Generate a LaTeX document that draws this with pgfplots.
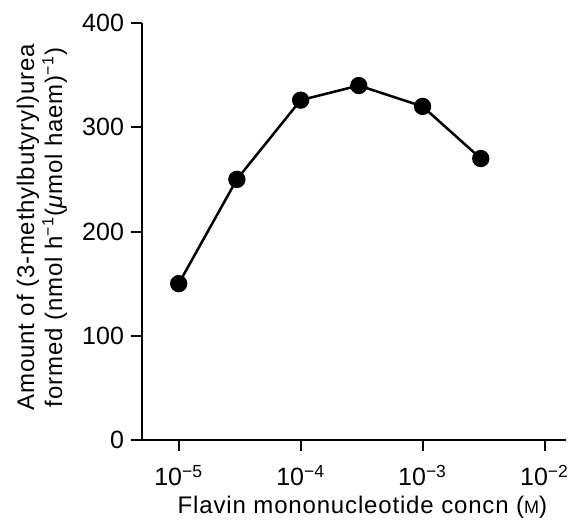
\documentclass[border=0pt]{standalone}
\usepackage{fontspec}
\setmainfont{Liberation Sans}
\newfontfamily\labelfont[LetterSpace=3.5]{Liberation Sans}
\usepackage{pgfplots}
\pgfplotsset{compat=1.18}

\begin{document}
\begin{tikzpicture}
\useasboundingbox (-71pt,-40pt) rectangle (215.5pt,220pt);
\begin{axis}[
    at={(0,0)}, anchor=south west, scale only axis,
    width=212pt, height=208.5pt,
    xmode=log, xmin=5.0e-6, xmax=1.5e-2,
    ymin=0, ymax=400,
    axis x line*=bottom, axis y line*=left,
    axis line style={line width=1pt, -},
    every tick/.style={black, line width=1pt},
    tick align=outside, major tick length=5.5pt,
    xminorticks=false,
    xtick={1e-5,1e-4,1e-3,1e-2},
    xticklabels={10\textsuperscript{−5},10\textsuperscript{−4},10\textsuperscript{−3},10\textsuperscript{−2}},
    ytick={0,100,200,300,400},
    yticklabels={0,100,200,300,400},
    tick label style={font=\fontsize{12.5}{14}\selectfont},
    xticklabel style={yshift=-3.5pt},
    label style={font=\labelfont\fontsize{12}{14}\selectfont},
    xlabel={Flavin mononucleotide concn ({\fontsize{9}{10}\selectfont M})},
    xlabel style={at={(axis description cs:0.52,-0.176)}, anchor=base},
    ylabel={Amount of (3-methylbutyryl)urea\\formed (nmol h\textsuperscript{−1}(\textit{μ}mol haem)\textsuperscript{−1})},
    ylabel style={at={(axis description cs:-0.16,0.51)}, anchor=south, align=center},
    clip=false,
]
\addplot[black, line width=1.25pt, mark=*, mark size=3.7pt,
         mark options={fill=black}]
  coordinates {(1e-5,150) (3e-5,250) (1e-4,326) (3e-4,340) (1e-3,320) (3e-3,270)};
\end{axis}
\end{tikzpicture}
\end{document}
